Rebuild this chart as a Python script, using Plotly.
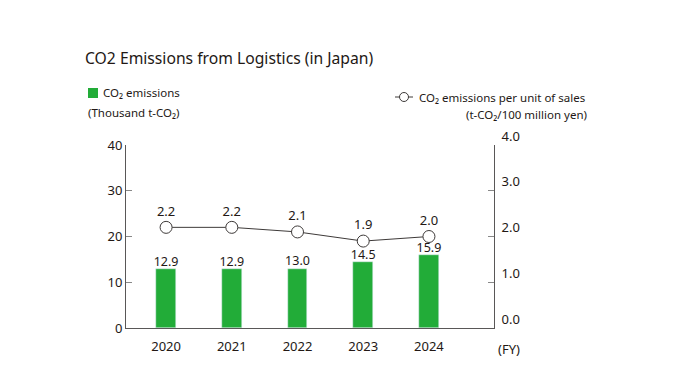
import plotly.graph_objects as go

years = ["2020", "2021", "2022", "2023", "2024"]
emissions = [12.9, 12.9, 13.0, 14.5, 15.9]
intensity = [2.2, 2.2, 2.1, 1.9, 2.0]
left_ticks = [0, 10, 20, 30, 40]
right_ticks = [0, 1, 2, 3, 4]

FONT = "Noto Sans"
GREEN = "#22ac38"
DARK = "#231815"
AXIS = "#595757"

fig = go.Figure()
fig.add_trace(go.Bar(
    x=years, y=emissions, width=0.3, marker_color=GREEN,
    showlegend=False, hoverinfo="skip",
))
fig.add_trace(go.Scatter(
    x=years, y=intensity, yaxis="y2", mode="lines+markers+text",
    line=dict(color="#3e3a39", width=1),
    marker=dict(size=12, color="white", line=dict(color="#3e3a39", width=1)),
    text=[f"{v:.1f}" for v in intensity], textposition="top center",
    textfont=dict(family=FONT, size=13, color=DARK),
    cliponaxis=False, showlegend=False, hoverinfo="skip",
))
# bar value labels, drawn on top of the line markers
fig.add_trace(go.Scatter(
    x=years, y=emissions, mode="text",
    text=[f"{v:.1f}" for v in emissions], textposition="top center",
    textfont=dict(family=FONT, size=12.5, color=DARK),
    cliponaxis=False, showlegend=False, hoverinfo="skip",
))

fig.update_layout(
    width=685, height=390,
    margin=dict(l=126, r=191, t=145, b=62),
    paper_bgcolor="white", plot_bgcolor="white",
    font=dict(family=FONT, size=12, color=DARK),
    bargap=0,
    xaxis=dict(type="category", range=[-0.61, 4.99], showline=True, linecolor=AXIS,
               linewidth=1, ticks="", showgrid=False, zeroline=False,
               tickfont=dict(family=FONT, size=13, color=DARK), ticklabelstandoff=6),
    yaxis=dict(range=[0, 40], tickvals=left_ticks, showline=True, linecolor=AXIS,
               linewidth=1, ticks="inside", ticklen=6, tickcolor="#888",
               showgrid=False, zeroline=False,
               tickfont=dict(family=FONT, size=13, color=DARK)),
    yaxis2=dict(range=[0, 4], tickvals=right_ticks, tickformat=".1f", overlaying="y",
                side="right", showline=True, linecolor=AXIS, linewidth=1,
                ticks="inside", ticklen=6, tickcolor="#888", showgrid=False,
                zeroline=False, ticklabelshift=-9, ticklabelstandoff=4,
                tickfont=dict(family=FONT, size=13, color=DARK)),
)


def px_x(v):
    return (v - 126) / 368


def px_y(v):
    return (328 - v) / 183


annots = [
    dict(text="CO2 Emissions from Logistics (in Japan)", x=83, y=58, size=15.7),
    dict(text="CO₂ emissions", x=101, y=93, size=11.5),
    dict(text="(Thousand t-CO₂)", x=86, y=112, size=11.5),
    dict(text="CO₂ emissions per unit of sales", x=417, y=98, size=11.5),
]
for a in annots:
    fig.add_annotation(text=a["text"], xref="paper", yref="paper",
                       x=px_x(a["x"]), y=px_y(a["y"]),
                       xanchor="left", yanchor="middle", showarrow=False,
                       font=dict(family=FONT, size=a["size"], color=DARK))
fig.add_annotation(text="(t-CO₂/100 million yen)", xref="paper", yref="paper",
                   x=px_x(589), y=px_y(114),
                   xanchor="right", yanchor="middle", showarrow=False,
                   font=dict(family=FONT, size=11.5, color=DARK))
fig.add_annotation(text="(FY)", xref="paper", yref="paper", x=1, y=0, xshift=2,
                   yshift=-10, xanchor="left", yanchor="top", showarrow=False,
                   font=dict(family=FONT, size=13, color=DARK))

# legend symbols
fig.add_shape(type="rect", xref="paper", yref="paper", x0=px_x(88), x1=px_x(98),
              y0=px_y(98), y1=px_y(88), fillcolor=GREEN, line_width=0)
fig.add_shape(type="line", xref="paper", yref="paper", x0=px_x(395), x1=px_x(413),
              y0=px_y(97), y1=px_y(97), line=dict(color="#3e3a39", width=1))
fig.add_shape(type="circle", xref="paper", yref="paper", x0=px_x(399.5), x1=px_x(408.5),
              y0=px_y(101.5), y1=px_y(92.5), fillcolor="white",
              line=dict(color="#3e3a39", width=1))

fig.write_html("out.html", config={"displayModeBar": False},
               post_script="document.body.style.margin='0';document.body.style.padding='0';")
